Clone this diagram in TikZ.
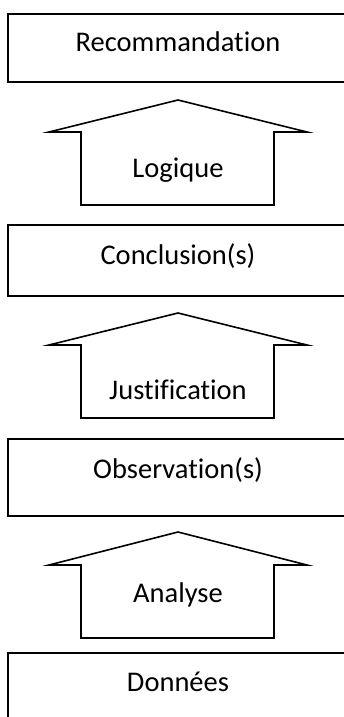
\documentclass[tikz,border=0pt]{standalone}
\usepackage{fontspec}
\setmainfont{Carlito}[Ligatures=NoCommon]
\begin{document}
\begin{tikzpicture}[x=1pt,y=-1pt,
  stage/.style={draw=black,line width=1.8pt,rectangle,minimum width=340pt,inner sep=0pt},
  blockarrow/.style={draw=black,line width=1.6pt,line join=miter},
  label/.style={anchor=base,inner sep=0pt,font=\fontsize{28.5}{34}\selectfont}]
\useasboundingbox (0,0) rectangle (344,717);
% boxes
\node[stage,minimum height=68pt] (rec) at (178,48) {};
\node[stage,minimum height=71pt] (conc) at (178,260.5) {};
\node[stage,minimum height=77pt] (obs) at (178,477.5) {};
\node[stage,minimum height=80pt] (don) at (178,693) {};
% block arrows
\foreach \n/\t/\w/\b in {a1/100/132/205, a2/313/345/418, a3/532/565/638}{
  \draw[blockarrow] (81,\b) -- (81,\w) -- (49,\w) -- (178,\t) -- (307,\w) -- (274,\w) -- (274,\b) -- cycle;
}
% labels
\node[label] (trec) at (178,52) {Recommandation};
\node[label] (tlog) at (178,177) {Logique};
\node[label] (tconc) at (178,264) {Conclusion(s)};
\node[label] (tjus) at (178,399) {Justification};
\node[label] (tobs) at (178,478) {Observation(s)};
\node[label] (tana) at (178,602) {Analyse};
\node[label] (tdon) at (178,691) {Données};
\end{tikzpicture}
\end{document}
